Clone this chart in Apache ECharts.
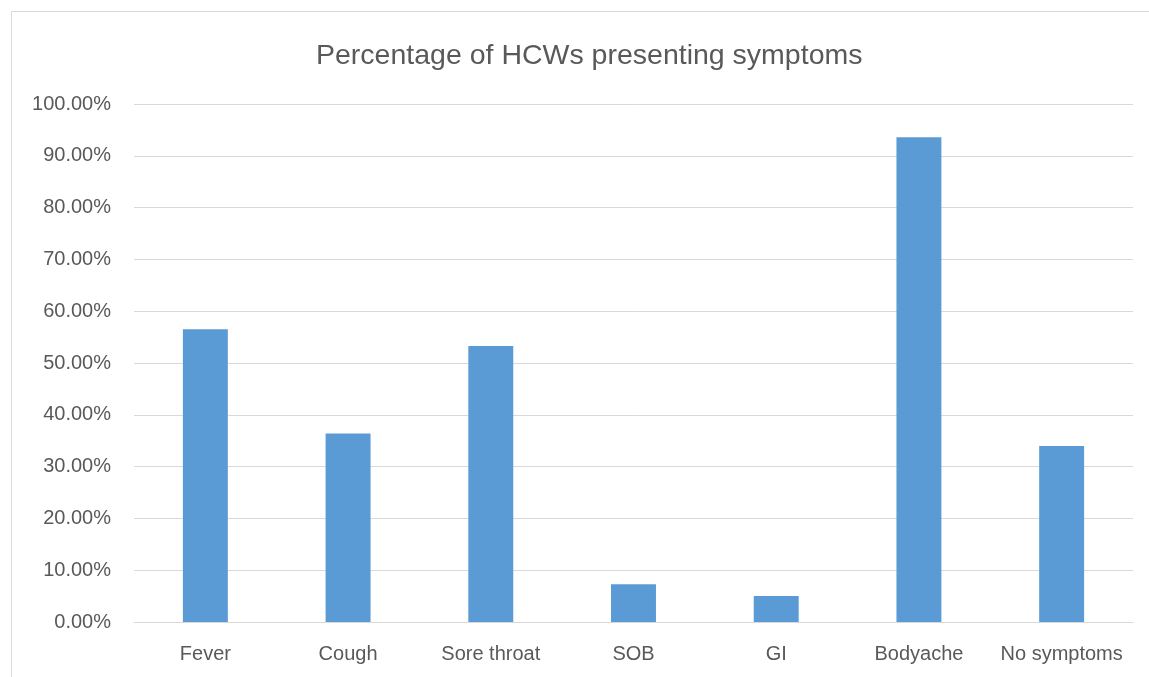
<!DOCTYPE html>
<html>
<head>
<meta charset="utf-8">
<script src="https://cdn.jsdelivr.net/npm/echarts@6/dist/echarts.min.js"></script>
<style>
  html, body { margin: 0; padding: 0; background: #fff; }
  #chart { width: 1149px; height: 677px; }
</style>
</head>
<body>
<div id="chart"></div>
<script>
const categories = ['Fever', 'Cough', 'Sore throat', 'SOB', 'GI', 'Bodyache', 'No symptoms']
const percentValues = [56.5, 36.4, 53.3, 7.3, 5.0, 93.6, 34.0]
const yTicks = { min: 0, max: 100, interval: 10 }

const myChart = echarts.init(document.getElementById('chart'))
const labelFont = '"Liberation Sans", Arial, sans-serif'

const options = {
  animation: false,
  title: {
    text: 'Percentage of HCWs presenting symptoms',
    left: 311,
    top: 37,
    textStyle: {
      color: '#595959',
      fontSize: 28.5,
      fontWeight: 'normal',
      fontFamily: labelFont
    }
  },
  // outer chart frame
  graphic: [{
    type: 'rect',
    shape: { x: 11.5, y: 11.5, width: 1160, height: 700 },
    style: { fill: 'none', stroke: '#d9d9d9', lineWidth: 1 },
    silent: true
  }],
  grid: {
    top: 104,
    left: 134,
    right: 16,
    bottom: 55
  },
  xAxis: {
    type: 'category',
    data: categories,
    axisLine: { lineStyle: { color: '#d9d9d9', width: 1 } },
    axisTick: { show: false },
    axisLabel: {
      interval: 0,
      margin: 22,
      color: '#595959',
      fontSize: 20,
      fontFamily: labelFont
    }
  },
  yAxis: {
    type: 'value',
    min: yTicks.min,
    max: yTicks.max,
    interval: yTicks.interval,
    axisLine: { show: false },
    axisTick: { show: false },
    axisLabel: {
      margin: 23,
      color: '#595959',
      fontSize: 20,
      fontFamily: labelFont,
      formatter: v => v.toFixed(2) + '%'
    },
    splitLine: { lineStyle: { color: '#d9d9d9', width: 1 } }
  },
  series: [{
    type: 'bar',
    data: percentValues,
    barWidth: '31.5%',
    itemStyle: { color: '#5b9bd5' }
  }]
}
myChart.setOption(options)
</script>
</body>
</html>
